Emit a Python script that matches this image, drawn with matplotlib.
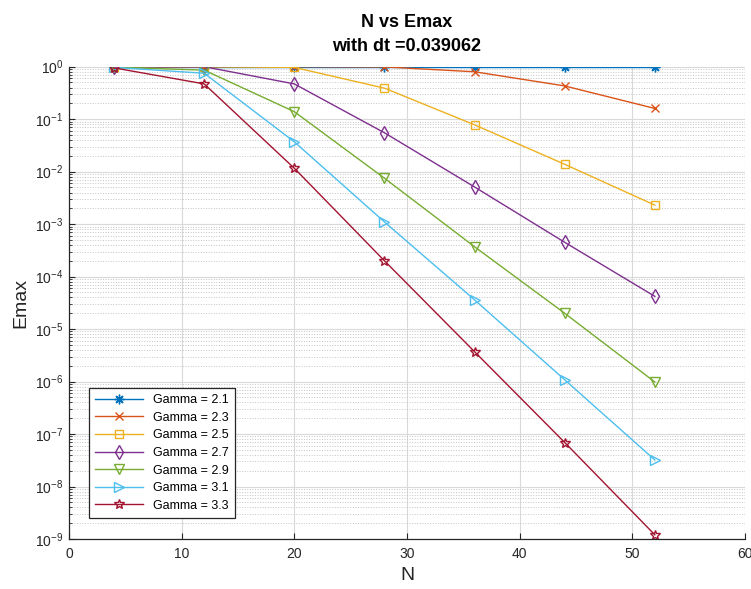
import numpy as np
import matplotlib
matplotlib.use("Agg")
import matplotlib.pyplot as plt
from matplotlib.ticker import LogLocator, NullFormatter, MultipleLocator

plt.rcParams['font.family'] = ['Liberation Sans', 'DejaVu Sans']
plt.rcParams['mathtext.fontset'] = 'custom'
plt.rcParams['mathtext.rm'] = 'Liberation Sans'
plt.rcParams['mathtext.it'] = 'Liberation Sans:italic'

# data
N = [4, 12, 20, 28, 36, 44, 52]
gammas = ["2.1", "2.3", "2.5", "2.7", "2.9", "3.1", "3.3"]
emax_21 = [1.0, 1.0, 1.0, 1.0, 1.0, 1.0, 1.0]
emax_23 = [1.0, 1.0, 1.0, 0.99, 0.80, 0.43, 0.16]
emax_25 = [1.0, 1.0, 0.97, 0.39, 0.078, 0.0138, 0.0023]
emax_27 = [1.0, 1.0, 0.47, 0.055, 0.0051, 4.5e-4, 4.2e-5]
emax_29 = [0.98, 0.86, 0.139, 0.0075, 3.7e-4, 2.0e-5, 9.8e-7]
emax_31 = [0.97, 0.75, 0.037, 1.1e-3, 3.6e-5, 1.08e-6, 3.2e-8]
emax_33 = [0.95, 0.47, 0.0116, 2.0e-4, 3.7e-6, 6.9e-8, 1.2e-9]
series = [emax_21, emax_23, emax_25, emax_27, emax_29, emax_31, emax_33]

colors = [(0, 0.447, 0.741), (0.85, 0.325, 0.098), (0.929, 0.694, 0.125),
          (0.494, 0.184, 0.556), (0.466, 0.674, 0.188), (0.301, 0.745, 0.933),
          (0.635, 0.078, 0.184)]
markers = [(8, 2, 0), 'x', 's', 'd', 'v', '>', '*']
msizes = [7, 6, 6, 7, 7, 7, 7]

fig = plt.figure(figsize=(7.51, 5.89), dpi=100)
ax = fig.add_axes([69 / 751, 50 / 589, 676 / 751, 472.3 / 589])

for vals, g, c, m, ms in zip(series, gammas, colors, markers, msizes):
    ax.semilogy(N, vals, color=c, lw=1.0, marker=m, ms=ms, mfc='none',
                mec=c, mew=1.0, label="Gamma = " + g)

ax.set_xlim(0, 60)
ax.set_ylim(1e-9, 1)
ax.xaxis.set_major_locator(MultipleLocator(10))
ax.yaxis.set_major_locator(LogLocator(base=10, numticks=20))
ax.yaxis.set_minor_locator(LogLocator(base=10, subs=np.arange(2, 10), numticks=20))
ax.yaxis.set_minor_formatter(NullFormatter())

ax.grid(True, which='major', color='#d9d9d9', lw=0.8, ls='-')
ax.grid(True, which='minor', axis='y', color='#c4c4c4', lw=0.7, ls=':')
ax.set_axisbelow(True)

for s in ['top', 'right']:
    ax.spines[s].set_visible(False)
for s in ['left', 'bottom']:
    ax.spines[s].set_color('#262626')
    ax.spines[s].set_linewidth(0.9)

ax.tick_params(which='major', direction='in', length=4, color='#262626')
ax.tick_params(which='minor', direction='in', length=2.5, color='#262626')
ax.tick_params(axis='x', labelsize=10, labelcolor='#262626', pad=6)
ax.tick_params(axis='y', labelsize=10, labelcolor='#262626', pad=4)

ax.set_xlabel("N", fontsize=14, color='#262626')
ax.set_ylabel("Emax", fontsize=14, color='#262626')
ax.set_title("N vs Emax\nwith dt =0.039062", fontsize=13, fontweight='bold',
             linespacing=1.6, pad=11)

leg = ax.legend(loc='lower left', bbox_to_anchor=(20 / 676, 21 / 472.3),
                borderaxespad=0, fontsize=9, handlelength=3.8,
                labelspacing=0.45, fancybox=False, framealpha=1,
                edgecolor='#262626', borderpad=0.5)
leg.get_frame().set_linewidth(0.9)

fig.savefig("out.png", dpi=100)
